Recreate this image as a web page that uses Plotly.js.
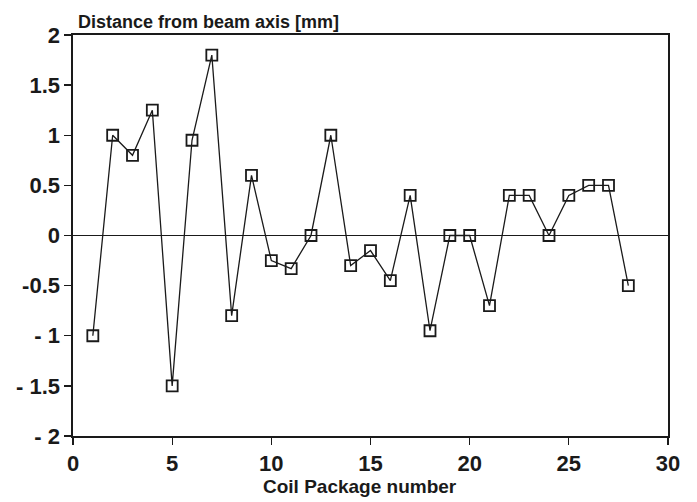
<!DOCTYPE html>
<html>
<head>
<meta charset="utf-8">
<script src="https://cdn.plot.ly/plotly-3.0.1.min.js"></script>
<style>
  html, body { margin: 0; padding: 0; background: #fff; }
  #chart { width: 697px; height: 502px; }
</style>
</head>
<body>
<div id="chart"></div>
<script>
// Coil package positions and their distance from the beam axis (mm)
const packageNumber = [1, 2, 3, 4, 5, 6, 7, 8, 9, 10, 11, 12, 13, 14,
                       15, 16, 17, 18, 19, 20, 21, 22, 23, 24, 25, 26, 27, 28];
const distanceMm = [-1.0, 1.0, 0.8, 1.25, -1.5, 0.95, 1.8, -0.8, 0.6, -0.25, -0.33, 0.0, 1.0, -0.3,
                    -0.15, -0.45, 0.4, -0.95, 0.0, 0.0, -0.7, 0.4, 0.4, 0.0, 0.4, 0.5, 0.5, -0.5];
const xTicks = [0, 5, 10, 15, 20, 25, 30];
const yTicks = [2, 1.5, 1, 0.5, 0, -0.5, -1, -1.5, -2];
const yTickText = ['2', '1.5', '1', '0.5', '0', '-0.5', '- 1', '- 1.5', '- 2'];

const fontFamily = 'Liberation Sans, Arial, sans-serif';
const ink = '#1a1a1a';

const trace = {
  x: packageNumber,
  y: distanceMm,
  mode: 'lines+markers',
  type: 'scatter',
  line: { color: ink, width: 1.3 },
  marker: {
    symbol: 'square-open',
    size: 11,
    color: ink,
    line: { width: 1.8, color: ink }
  },
  hoverinfo: 'x+y'
};

const layout = {
  width: 697,
  height: 502,
  margin: { l: 73, r: 29, t: 35, b: 66 },
  paper_bgcolor: '#ffffff',
  plot_bgcolor: '#ffffff',
  showlegend: false,
  font: { family: fontFamily, color: ink },
  xaxis: {
    range: [0, 30],
    tickvals: xTicks,
    ticktext: xTicks.map(String),
    ticks: 'outside',
    ticklen: 7,
    tickwidth: 1.3,
    tickcolor: ink,
    showgrid: false,
    zeroline: false,
    showline: true,
    linecolor: ink,
    linewidth: 1.6,
    mirror: true,
    tickfont: { size: 22, weight: 'bold', family: fontFamily, color: ink }
  },
  yaxis: {
    range: [-2, 2],
    tickvals: yTicks,
    ticktext: yTickText,
    ticks: 'outside',
    ticklen: 7,
    tickwidth: 1.3,
    tickcolor: ink,
    showgrid: false,
    zeroline: true,
    zerolinecolor: ink,
    zerolinewidth: 1.6,
    showline: true,
    linecolor: ink,
    linewidth: 1.6,
    mirror: true,
    tickfont: { size: 22, weight: 'bold', family: fontFamily, color: ink }
  },
  annotations: [
    {
      // axis caption above the plot frame
      text: 'Distance from beam axis [mm]',
      xref: 'paper', yref: 'paper',
      x: 0.005, y: 1,
      xanchor: 'left', yanchor: 'bottom',
      yshift: 1,
      showarrow: false,
      font: { size: 18, weight: 'bold', family: fontFamily, color: ink }
    },
    {
      // x-axis caption below the tick labels
      text: 'Coil Package number',
      xref: 'paper', yref: 'paper',
      x: 0.482, y: -0.127,
      xanchor: 'center', yanchor: 'middle',
      showarrow: false,
      font: { size: 19, weight: 'bold', family: fontFamily, color: ink }
    }
  ]
};

Plotly.newPlot('chart', [trace], layout, { displayModeBar: false, staticPlot: true });
</script>
</body>
</html>
